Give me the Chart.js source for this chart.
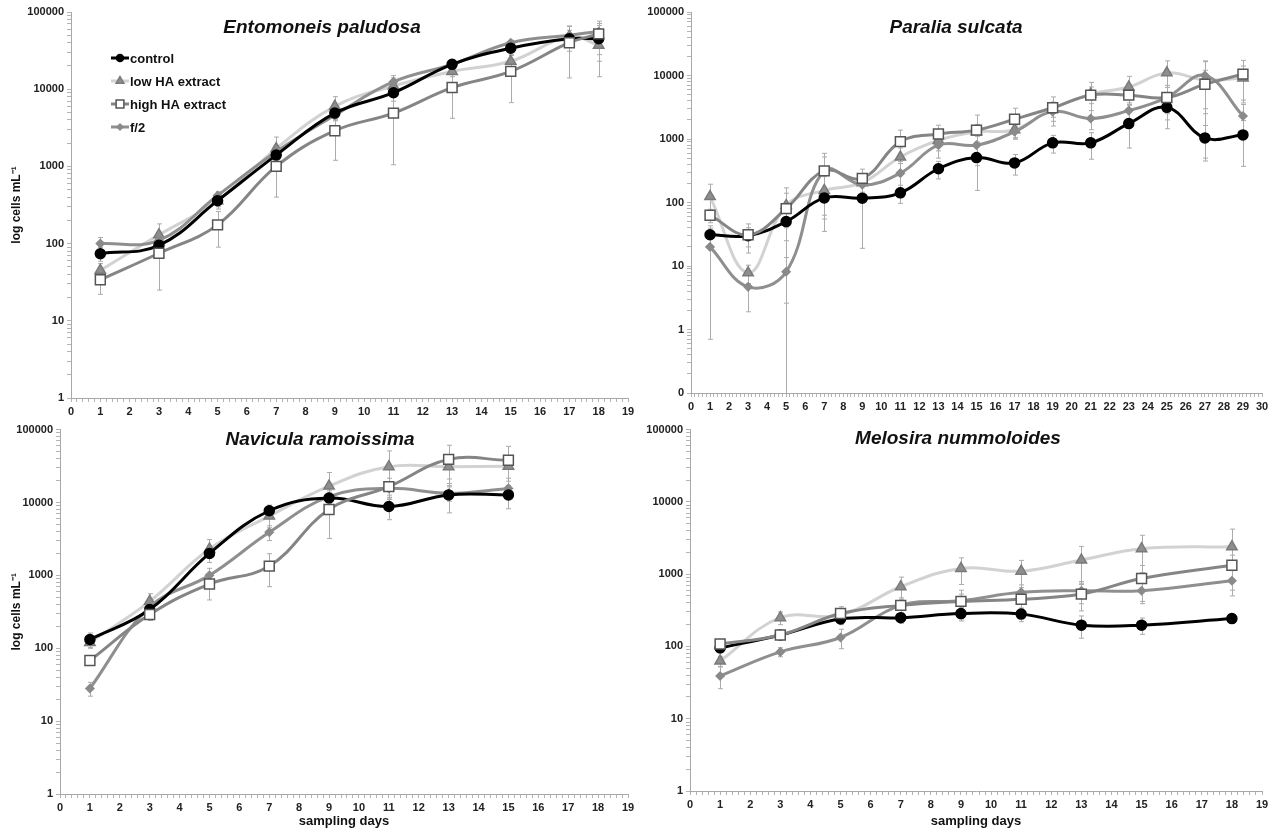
<!DOCTYPE html>
<html>
<head>
<meta charset="utf-8">
<script src="https://cdn.jsdelivr.net/npm/chart.js@4.4.1/dist/chart.umd.min.js"></script>
<style>
  html, body { margin: 0; padding: 0; background: #fff; }
  body { width: 1282px; height: 832px; position: relative; overflow: hidden; font-family: "Liberation Sans", Arial, sans-serif; }
  canvas { position: absolute; }
  .ptitle { position: absolute; font-weight: bold; font-style: italic; font-size: 19px; color: #111; white-space: nowrap; transform: translate(-50%, -50%); }
</style>
</head>
<body>
<canvas id="c1"></canvas>
<canvas id="c2"></canvas>
<canvas id="c3"></canvas>
<canvas id="c4"></canvas>
<div class="ptitle" style="left:322px;top:27px">Entomoneis paludosa</div>
<div class="ptitle" style="left:956px;top:27px">Paralia sulcata</div>
<div class="ptitle" style="left:320px;top:439px">Navicula ramoissima</div>
<div class="ptitle" style="left:958px;top:438px">Melosira nummoloides</div>
<script>
// ---------- DATA ----------
const seriesNames = ['control', 'low HA extract', 'high HA extract', 'f/2'];

// Entomoneis paludosa
const entDays = [1, 3, 5, 7, 9, 11, 13, 15, 17, 18];
const entControl   = [74, 95, 360, 1400, 4900, 9000, 21000, 34000, 45000, 45000];
const entControlSd = [15, 25, 60, 300, 800, 2000, 2000, 3000, 8000, 22000];
const entLow       = [45, 130, 360, 1700, 6000, 11000, 17000, 23000, 48000, 37000];
const entLowSd     = [10, 50, 80, 700, 2000, 3000, 2500, 5000, 17000, 22500];
const entHigh      = [34, 75, 175, 1000, 2900, 4900, 10500, 17000, 40000, 52000];
const entHighSd    = [12, 50, 85, 600, 1700, 3850, 6300, 10300, 26000, 24000];
const entF2        = [100, 110, 420, 1550, 4600, 12500, 21000, 40000, 50000, 56000];
const entF2Sd      = [20, 20, 50, 300, 700, 2500, 2000, 3000, 8000, 15000];

// Paralia sulcata
const parDays = [1, 3, 5, 7, 9, 11, 13, 15, 17, 19, 21, 23, 25, 27, 29];
const parControl   = [31, 30, 50, 118, 117, 142, 340, 510, 420, 870, 870, 1750, 3150, 1040, 1160];
const parControlSd = [12, 10, 25, 55, 98, 45, 105, 355, 150, 270, 390, 1030, 1700, 590, 790];
const parLow       = [124, 7.8, 90, 155, 205, 520, 950, 1300, 1400, 3000, 5100, 6600, 11000, 8500, 9100];
const parLowSd     = [70, 2.5, 50, 100, 80, 200, 300, 400, 400, 800, 1500, 3100, 6000, 8000, 5000];
const parHigh      = [63, 31, 80, 315, 240, 910, 1200, 1380, 2050, 3100, 4900, 4900, 4500, 7300, 10500];
const parHighSd    = [15, 15, 90, 280, 95, 470, 450, 1000, 1000, 1500, 2900, 1500, 2000, 4800, 6800];
const parF2        = [20, 4.7, 8.1, 320, 190, 290, 800, 800, 1300, 2700, 2100, 2800, 4500, 10000, 2300];
const parF2Sd      = [19.3, 2.8, 5.5, 200, 60, 120, 300, 300, 300, 800, 700, 900, 2500, 7000, 1200];

// Navicula ramoissima
const navDays = [1, 3, 5, 7, 9, 11, 13, 15];
const navControl   = [132, 340, 2000, 7700, 11500, 8800, 12700, 12700];
const navControlSd = [30, 60, 500, 1500, 2000, 3000, 5500, 4500];
const navLow       = [120, 440, 2300, 6500, 16800, 31000, 31000, 31500];
const navLowSd     = [20, 120, 800, 2000, 9000, 20000, 10000, 10000];
const navHigh      = [68, 290, 760, 1340, 8000, 16500, 39000, 38000];
const navHighSd    = [10, 50, 300, 640, 4800, 5000, 22000, 21000];
const navF2        = [28, 370, 1000, 3900, 12000, 15600, 13400, 15600];
const navF2Sd      = [6, 60, 250, 900, 2500, 3000, 3000, 4000];

// Melosira nummoloides
const melDays = [1, 3, 5, 7, 9, 11, 13, 15, 18];
const melControl   = [95, 144, 240, 250, 285, 280, 197, 197, 243];
const melControlSd = [10, 20, 40, 40, 60, 60, 67, 50, 30];
const melLow       = [63, 250, 270, 670, 1200, 1100, 1570, 2250, 2400];
const melLowSd     = [10, 50, 60, 240, 480, 450, 850, 1200, 1800];
const melHigh      = [108, 144, 285, 370, 420, 450, 530, 870, 1330];
const melHighSd    = [10, 20, 70, 100, 180, 120, 220, 450, 500];
const melF2        = [39, 84, 133, 370, 430, 560, 590, 590, 810];
const melF2Sd      = [13, 12, 40, 80, 100, 150, 200, 200, 310];

// Tick labels
const yLabelsStd     = ['1', '10', '100', '1000', '10000', '100000'];
const yLabelsParalia = ['0', '1', '10', '100', '1000', '10000', '100000'];
const xLabels19 = ['0','1','2','3','4','5','6','7','8','9','10','11','12','13','14','15','16','17','18','19'];
const xLabels30 = ['0','1','2','3','4','5','6','7','8','9','10','11','12','13','14','15','16','17','18','19','20','21','22','23','24','25','26','27','28','29','30'];

// ---------- STYLES ----------
const FAMILY = '"Liberation Sans", Arial, sans-serif';
const seriesStyles = [
  { borderColor: '#000000', pointStyle: 'circle',   pointRadius: 5, pointBackgroundColor: '#000000', pointBorderColor: '#000000', order: 1 },
  { borderColor: '#d2d2d2', pointStyle: 'triangle', pointRadius: 6, pointBackgroundColor: '#8e8e8e', pointBorderColor: '#7a7a7a', order: 3 },
  { borderColor: '#858585', pointStyle: 'rect',     pointRadius: 7, pointBackgroundColor: '#ffffff', pointBorderColor: '#555555', order: 0 },
  { borderColor: '#8f8f8f', pointStyle: 'rectRot',  pointRadius: 4, pointBackgroundColor: '#8a8a8a', pointBorderColor: '#8a8a8a', order: 2 }
];

const panels = [
  { id: 'c1', left: 0,   top: 0,   w: 640, h: 420, area: { l: 71, r: 628, t: 12, b: 398 },
    days: entDays, series: [[entControl, entControlSd], [entLow, entLowSd], [entHigh, entHighSd], [entF2, entF2Sd]],
    yMinExp: 0, yLabels: yLabelsStd, xLabels: xLabels19, yTitle: true, xTitle: false, legend: true },
  { id: 'c2', left: 640, top: 0,   w: 642, h: 420, area: { l: 51, r: 622, t: 12, b: 393 },
    days: parDays, series: [[parControl, parControlSd], [parLow, parLowSd], [parHigh, parHighSd], [parF2, parF2Sd]],
    yMinExp: -1, yLabels: yLabelsParalia, xLabels: xLabels30, yTitle: false, xTitle: false, legend: false },
  { id: 'c3', left: 0,   top: 420, w: 640, h: 412, area: { l: 60, r: 628, t: 4, b: 374 },
    days: navDays, series: [[navControl, navControlSd], [navLow, navLowSd], [navHigh, navHighSd], [navF2, navF2Sd]],
    yMinExp: 0, yLabels: yLabelsStd, xLabels: xLabels19, yTitle: true, xTitle: true, legend: false },
  { id: 'c4', left: 640, top: 420, w: 642, h: 412, area: { l: 50, r: 622, t: 4, b: 371 },
    days: melDays, series: [[melControl, melControlSd], [melLow, melLowSd], [melHigh, melHighSd], [melF2, melF2Sd]],
    yMinExp: 0, yLabels: yLabelsStd, xLabels: xLabels19, yTitle: false, xTitle: true, legend: false }
];

// ---------- PLUGINS ----------
const errorBarPlugin = {
  id: 'errorBars',
  beforeDatasetsDraw(chart) {
    const { ctx, chartArea } = chart;
    const xs = chart.scales.x, ys = chart.scales.y;
    ctx.save();
    ctx.beginPath();
    ctx.rect(chartArea.left, chartArea.top, chartArea.right - chartArea.left, chartArea.bottom - chartArea.top);
    ctx.clip();
    ctx.strokeStyle = '#ababab';
    ctx.lineWidth = 1;
    chart.data.datasets.forEach((ds) => {
      const errs = ds.errors || [];
      ds.data.forEach((p, j) => {
        const e = errs[j];
        if (e == null) return;
        const px = Math.round(xs.getPixelForValue(p.x)) + 0.5;
        const hi = ys.getPixelForValue(p.y + e);
        const lowV = p.y - e;
        const lo = lowV > ys.min ? ys.getPixelForValue(lowV) : chartArea.bottom;
        ctx.beginPath();
        ctx.moveTo(px, hi); ctx.lineTo(px, lo);
        ctx.moveTo(px - 2.5, hi); ctx.lineTo(px + 2.5, hi);
        if (lowV > ys.min) { ctx.moveTo(px - 2.5, lo); ctx.lineTo(px + 2.5, lo); }
        ctx.stroke();
      });
    });
    ctx.restore();
  }
};

function drawMarker(ctx, st, x, y) {
  const r = st.pointRadius;
  ctx.save();
  ctx.fillStyle = st.pointBackgroundColor;
  ctx.strokeStyle = st.pointBorderColor;
  ctx.lineWidth = 1.5;
  ctx.beginPath();
  if (st.pointStyle === 'circle') {
    ctx.arc(x, y, r, 0, Math.PI * 2);
  } else if (st.pointStyle === 'triangle') {
    const h = r * 1.5, w = r * Math.sqrt(3);
    ctx.moveTo(x, y - r);
    ctx.lineTo(x + w / 2, y - r + h);
    ctx.lineTo(x - w / 2, y - r + h);
    ctx.closePath();
  } else if (st.pointStyle === 'rect') {
    const s = r * Math.SQRT1_2;
    ctx.rect(x - s, y - s, 2 * s, 2 * s);
  } else {
    ctx.moveTo(x, y - r); ctx.lineTo(x + r, y); ctx.lineTo(x, y + r); ctx.lineTo(x - r, y); ctx.closePath();
  }
  ctx.fill();
  ctx.stroke();
  ctx.restore();
}

const innerLegendPlugin = {
  id: 'innerLegend',
  afterDraw(chart) {
    const { ctx } = chart;
    const ys = [58, 81, 104, 127];
    ctx.save();
    chart.data.datasets.forEach((ds, i) => {
      const st = seriesStyles[i];
      const y = ys[i];
      ctx.strokeStyle = st.borderColor;
      ctx.lineWidth = 3;
      ctx.beginPath();
      ctx.moveTo(111, y); ctx.lineTo(129, y);
      ctx.stroke();
      const small = Object.assign({}, st, { pointRadius: Math.max(3, st.pointRadius - 1.5) });
      drawMarker(ctx, small, 120, y);
      ctx.fillStyle = '#111';
      ctx.font = 'bold 13px ' + FAMILY;
      ctx.textAlign = 'left';
      ctx.textBaseline = 'middle';
      ctx.fillText(ds.label, 130, y + 1);
    });
    ctx.restore();
  }
};

// ---------- BUILD ----------
panels.forEach((p) => {
  const cv = document.getElementById(p.id);
  cv.width = p.w; cv.height = p.h;
  cv.style.left = p.left + 'px'; cv.style.top = p.top + 'px';
  cv.style.width = p.w + 'px'; cv.style.height = p.h + 'px';

  const xMax = p.xLabels.length - 1;
  const xTickVals = [];
  for (let k = 0; k <= xMax * 5; k++) xTickVals.push(k / 5);
  const yTickVals = [];
  for (let e = p.yMinExp; e < 5; e++) {
    for (let m = 1; m <= 9; m++) yTickVals.push(m * Math.pow(10, e));
  }
  yTickVals.push(100000);

  const datasets = p.series.map((s, i) => {
    const st = seriesStyles[i];
    return {
      label: seriesNames[i],
      data: p.days.map((d, j) => ({ x: d, y: s[0][j] })),
      errors: s[1],
      borderColor: st.borderColor,
      backgroundColor: st.pointBackgroundColor,
      borderWidth: 3,
      tension: 0.4,
      pointStyle: st.pointStyle,
      pointRadius: st.pointRadius,
      pointBackgroundColor: st.pointBackgroundColor,
      pointBorderColor: st.pointBorderColor,
      pointBorderWidth: 1.5,
      order: st.order,
      fill: false
    };
  });

  const plugins = [errorBarPlugin];
  if (p.legend) plugins.push(innerLegendPlugin);

  new Chart(cv, {
    type: 'line',
    data: { datasets },
    plugins,
    options: {
      responsive: false,
      maintainAspectRatio: false,
      animation: false,
      devicePixelRatio: 1,
      layout: { padding: { left: 0, right: p.w - p.area.r, top: p.area.t, bottom: 0 } },
      plugins: { legend: { display: false }, tooltip: { enabled: false }, title: { display: false } },
      scales: {
        x: {
          type: 'linear', min: 0, max: xMax,
          afterBuildTicks: (s) => { s.ticks = xTickVals.map((v) => ({ value: v })); },
          afterFit: (s) => { s.height = p.h - p.area.b; },
          ticks: {
            autoSkip: false, maxRotation: 0, minRotation: 0, padding: 3,
            font: { family: FAMILY, size: 11, weight: 'bold' }, color: '#222',
            callback: (v) => { const r = Math.round(v); return Math.abs(v - r) < 1e-6 ? p.xLabels[r] : ''; }
          },
          grid: { drawOnChartArea: false, drawTicks: true, tickLength: 4, color: '#b4b4b4' },
          border: { display: true, color: '#a8a8a8', width: 1 },
          title: { display: p.xTitle, text: 'sampling days', font: { family: FAMILY, size: 13, weight: 'bold' }, color: '#111', padding: { top: 3, bottom: 3 } }
        },
        y: {
          type: 'logarithmic', min: Math.pow(10, p.yMinExp), max: 100000,
          afterBuildTicks: (s) => { s.ticks = yTickVals.map((v) => ({ value: v })); },
          afterFit: (s) => { s.width = p.area.l; },
          ticks: {
            autoSkip: false, padding: 3,
            font: { family: FAMILY, size: 11, weight: 'bold' }, color: '#222',
            callback: (v) => {
              const l = Math.log10(v); const r = Math.round(l);
              return Math.abs(l - r) < 1e-6 ? p.yLabels[r - p.yMinExp] : '';
            }
          },
          grid: { drawOnChartArea: false, drawTicks: true, tickLength: 4, color: '#b4b4b4' },
          border: { display: true, color: '#a8a8a8', width: 1 },
          title: { display: p.yTitle, text: 'log cells mL⁻¹', font: { family: FAMILY, size: 12, weight: 'bold' }, color: '#111', padding: { top: 9, bottom: 0 } }
        }
      }
    }
  });
});
</script>
</body>
</html>
